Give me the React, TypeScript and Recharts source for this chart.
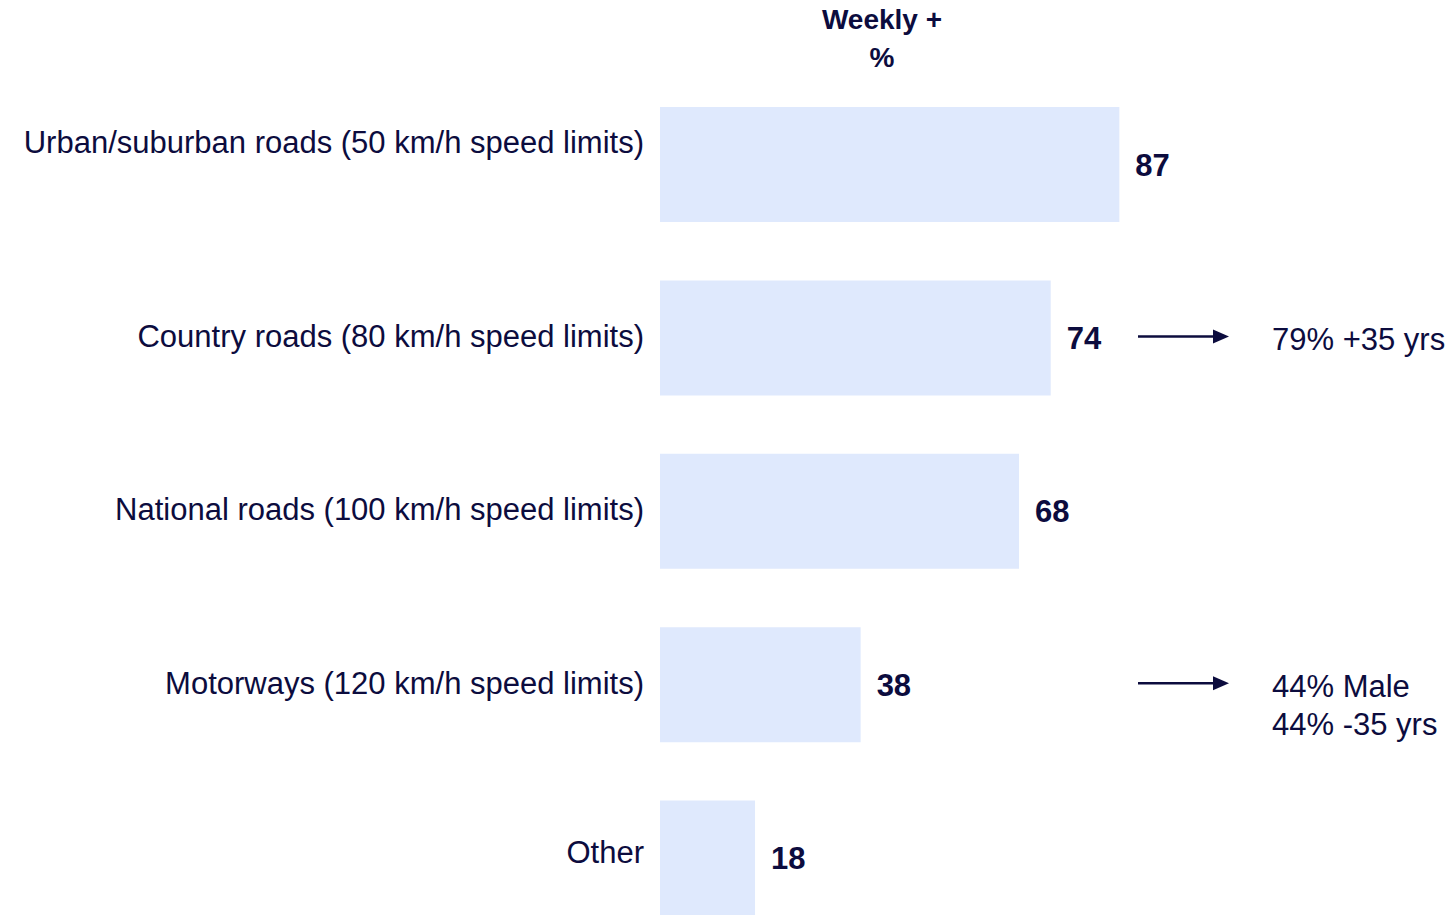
import { Bar, BarChart, LabelList, XAxis, YAxis } from 'recharts';

const categories = [
  'Urban/suburban roads (50 km/h speed limits)',
  'Country roads (80 km/h speed limits)',
  'National roads (100 km/h speed limits)',
  'Motorways (120 km/h speed limits)',
  'Other',
];
const weeklyPct = [87, 74, 68, 38, 18];
const notes = [[], ['79% +35 yrs'], [], ['44% Male', '44% -35 yrs'], []];
const headerLines = ['Weekly +', '%'];

const INK = '#0c0c3e';
const BAR = '#dfe9fd';
const FONT = '"Liberation Sans", Arial, sans-serif';

const data = categories.map((name, i) => ({ name, value: weeklyPct[i], note: notes[i] }));

// vertical nudges for the category names
const tickLift = [-23, -2, -2, -2, -6];

// category names sit right-aligned against the bars
function CategoryTick(props: any) {
  const { x, y, payload, index } = props;
  return (
    <text x={x} y={y + (tickLift[index] ?? 0)} dy="0.35em" textAnchor="end" fill={INK} fontSize={31} fontFamily={FONT}>
      {payload.value}
    </text>
  );
}

// arrow plus side note for rows that have one
function NoteLabel(props: any) {
  const { y, height, index } = props;
  const lines: string[] = notes[index] ?? [];
  if (!lines.length) return null;
  const cy = y + height / 2;
  const ay = cy - 1.5;
  return (
    <g>
      <line x1={1138} y1={ay} x2={1216} y2={ay} stroke={INK} strokeWidth={2.5} />
      <polygon points={`${1229},${ay} ${1213},${ay - 7} ${1213},${ay + 7}`} fill={INK} />
      {lines.map((t, k) => (
        <text key={k} x={1272} y={cy + 1 + k * 38} dy="0.35em" fill={INK} fontSize={31} fontFamily={FONT}>
          {t}
        </text>
      ))}
    </g>
  );
}

export default function App() {
  return (
    <div style={{ position: 'relative', width: 1450, height: 915, overflow: 'hidden', background: '#fff' }}>
      <style>{'body{margin:0}'}</style>
      <div
        style={{
          position: 'absolute',
          left: 782,
          top: 1,
          width: 200,
          textAlign: 'center',
          color: INK,
          fontFamily: FONT,
          fontWeight: 700,
          fontSize: 28,
          lineHeight: '38px',
        }}
      >
        {headerLines.map((l) => (
          <div key={l}>{l}</div>
        ))}
      </div>
      <BarChart
        width={1450}
        height={950}
        data={data}
        layout="vertical"
        margin={{ top: 78, right: 262, bottom: 5, left: 0 }}
      >
        <XAxis type="number" domain={[0, 100]} hide />
        <YAxis
          type="category"
          dataKey="name"
          width={660}
          axisLine={false}
          tickLine={false}
          tickSize={0}
          tickMargin={16}
          tick={<CategoryTick />}
          interval={0}
        />
        <Bar dataKey="value" fill={BAR} barSize={115} isAnimationActive={false}>
          <LabelList
            dataKey="value"
            position="right"
            offset={16}
            fill={INK}
            fontSize={31}
            fontWeight={700}
            fontFamily={FONT}
          />
          <LabelList dataKey="name" content={<NoteLabel />} />
        </Bar>
      </BarChart>
    </div>
  );
}
